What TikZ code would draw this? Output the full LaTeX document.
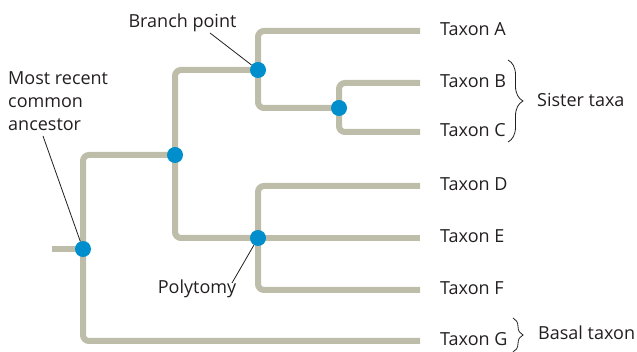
\documentclass[tikz,border=0pt]{standalone}
\usepackage{fontspec}
\setmainfont{Open Sans}
\usetikzlibrary{positioning,backgrounds,decorations.pathreplacing}

\definecolor{treegray}{RGB}{190,189,170}
\definecolor{nodeblue}{RGB}{0,143,204}
\definecolor{txt}{RGB}{35,31,32}

\tikzset{
  branch/.style={line width=6pt, draw=treegray, rounded corners=6pt},
  bpoint/.style={circle, fill=nodeblue, inner sep=0pt, minimum size=16pt},
  lbl/.style={font=\fontsize{18}{23}\selectfont, text=txt, inner sep=0pt},
  taxon/.style={lbl, yshift=2pt},
  pointer/.style={draw=txt, line width=0.8pt},
  brc/.style={draw=txt, line width=0.8pt, decorate, decoration={brace, amplitude=#1}}
}

\begin{document}
\begin{tikzpicture}[x=1pt,y=-1pt]
\useasboundingbox (0,0) rectangle (637,352);

\node[bpoint] (root) at (83,249) {};
\node[bpoint] (n1) at (175,155) {};
\node[bpoint] (n2) at (258,70) {};
\node[bpoint] (n3) at (339,108) {};
\node[bpoint] (n4) at (258,238) {};

\coordinate (stub) at (52,249);
\coordinate (eA) at (420,31);
\coordinate (eB) at (420,83);
\coordinate (eC) at (420,132);
\coordinate (eD) at (420,186);
\coordinate (eE) at (420,238);
\coordinate (eF) at (420,290);
\coordinate (eG) at (420,341);

\begin{scope}[on background layer]
\draw[branch] (stub) -- (root.center);
\draw[branch] (root.center) |- (n1.center);
\draw[branch] (root.center) |- (eG);
\draw[branch] (n1.center) |- (n2.center);
\draw[branch] (n1.center) |- (n4.center);
\draw[branch] (n2.center) |- (eA);
\draw[branch] (n2.center) |- (n3.center);
\draw[branch] (n3.center) |- (eB);
\draw[branch] (n3.center) |- (eC);
\draw[branch] (n4.center) |- (eD);
\draw[branch] (n4.center) -- (eE);
\draw[branch] (n4.center) |- (eF);
\end{scope}

\node[taxon, right=20pt of eA] (tA) {Taxon A};
\node[taxon, right=20pt of eB] (tB) {Taxon B};
\node[taxon, right=20pt of eC] (tC) {Taxon C};
\node[taxon, right=20pt of eD] (tD) {Taxon D};
\node[taxon, right=20pt of eE] (tE) {Taxon E};
\node[taxon, right=20pt of eF] (tF) {Taxon F};
\node[taxon, right=20pt of eG] (tG) {Taxon G};

\draw[brc=15pt] (508,60) -- (508,142);
\node[lbl, anchor=west] (sister) at (537,100) {Sister taxa};
\draw[brc=10pt] (513,318) -- (513,352);
\node[lbl, anchor=west] (basal) at (538,333) {Basal taxon};

\node[lbl, anchor=base] (bpl) at (182.5,28) {Branch point};
\coordinate (bplTail) at (210,33);
\draw[pointer] (bplTail) -- (n2);

\node[lbl, anchor=base west, align=left] (mrca) at (8,131) {Most recent\\common\\ancestor};
\coordinate (mrcaTail) at (43,136);
\draw[pointer] (mrcaTail) -- (root);

\node[lbl, anchor=base] (poly) at (197,294) {Polytomy};
\coordinate (polyTail) at (232,283);
\draw[pointer] (polyTail) -- (n4);
\end{tikzpicture}
\end{document}
